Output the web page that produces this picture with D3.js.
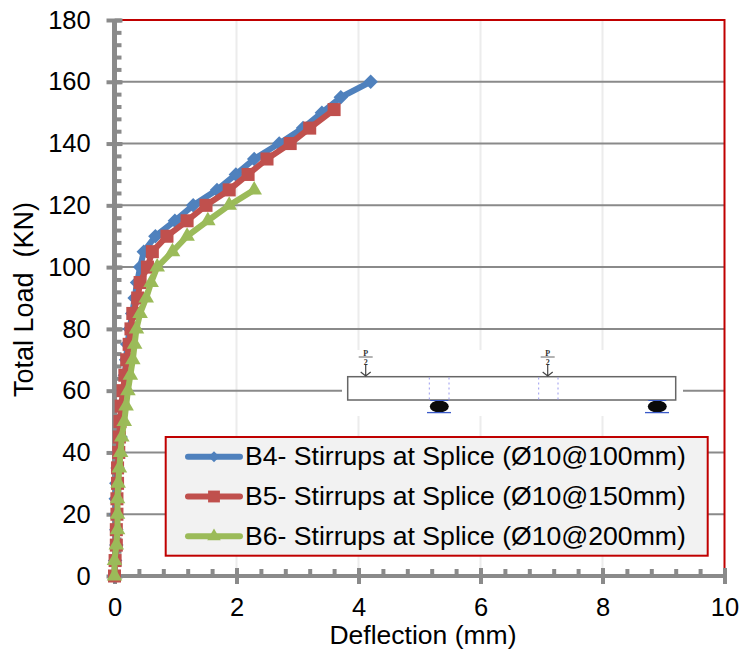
<!DOCTYPE html>
<html>
<head>
<meta charset="utf-8">
<script src="https://cdn.jsdelivr.net/npm/d3@7"></script>
<style>
 html, body { margin: 0; padding: 0; background: #fff; }
 text { font-family: "Liberation Sans", Arial, sans-serif; fill: #000; }
</style>
</head>
<body>
<svg id="chart" width="742" height="653"></svg>
<script>
 // Values, load in KN and deflection in mm
 const b4Load = [0, 5, 10, 15, 20, 25, 30, 35, 40, 45, 50, 55, 60, 65, 70, 75, 80, 85, 90, 95, 100, 105, 110, 115, 120, 125, 130, 135, 140, 145, 150, 155, 160];
 const b4Defl = [0, 0.01, 0.03, 0.03, 0.03, 0.02, 0.03, 0.05, 0.07, 0.1, 0.12, 0.13, 0.15, 0.17, 0.19, 0.21, 0.25, 0.29, 0.33, 0.37, 0.42, 0.48, 0.67, 0.99, 1.29, 1.68, 1.99, 2.29, 2.7, 3.09, 3.4, 3.71, 4.2];
 const b5Load = [0, 5, 10, 15, 20, 25, 30, 35, 40, 45, 50, 55, 60, 65, 70, 75, 80, 85, 90, 95, 100, 105, 110, 115, 120, 125, 130, 135, 140, 145, 151];
 const b5Defl = [0, 0.01, 0.03, 0.03, 0.04, 0.04, 0.05, 0.05, 0.07, 0.08, 0.09, 0.11, 0.14, 0.17, 0.2, 0.24, 0.27, 0.3, 0.38, 0.42, 0.54, 0.62, 0.86, 1.19, 1.5, 1.88, 2.19, 2.5, 2.88, 3.2, 3.6];
 const b6Load = [0, 5, 10, 15, 20, 25, 30, 35, 40, 45, 50, 55, 60, 65, 70, 75, 80, 85, 90, 95, 100, 105, 110, 115, 120, 125];
 const b6Defl = [0, 0, 0.03, 0.05, 0.05, 0.05, 0.06, 0.08, 0.1, 0.12, 0.16, 0.19, 0.22, 0.26, 0.3, 0.33, 0.36, 0.42, 0.52, 0.6, 0.7, 0.95, 1.19, 1.53, 1.88, 2.29];

 const seriesNames = ['B4- Stirrups at Splice (Ø10@100mm)', 'B5- Stirrups at Splice (Ø10@150mm)', 'B6- Stirrups at Splice (Ø10@200mm)'];
 const seriesColors = ['#4f81bd', '#c0504d', '#9bbb59'];
 const seriesMarkers = [d3.symbolSquare, d3.symbolSquare, d3.symbolTriangle];
 const markerAngles = [45, 0, 0];
 const markerAreas = [105, 170, 105];
 const legendAreas = [60, 140, 80];

 const xMajor = [0, 2, 4, 6, 8, 10];
 const yMajor = d3.range(0, 181, 20);
 const xMinor = d3.range(0, 10.01, 0.4);
 const yMinor = d3.range(0, 181, 4);

 const x = d3.scaleLinear().domain([0, 10]).range([114.5, 724.5]);
 const y = d3.scaleLinear().domain([0, 180]).range([576, 20]);
 const svg = d3.select('#chart');
 const axisGrey = '#8a8a8a';

 // Gridlines and plot border
 svg.append('g').selectAll('line').data(xMajor.slice(1, -1)).join('line')
    .attr('x1', d => x(d)).attr('x2', d => x(d))
    .attr('y1', y(180)).attr('y2', y(0))
    .attr('stroke', '#ececec').attr('stroke-width', 2);
 svg.append('g').selectAll('line').data(yMajor.slice(1, -1)).join('line')
    .attr('x1', x(0)).attr('x2', x(10))
    .attr('y1', d => y(d)).attr('y2', d => y(d))
    .attr('stroke', axisGrey).attr('stroke-width', 2);
 svg.append('rect')
    .attr('x', x(0)).attr('y', y(180))
    .attr('width', x(10) - x(0)).attr('height', y(0) - y(180))
    .attr('fill', 'none').attr('stroke', '#c00000').attr('stroke-width', 2);

 // Beam sketch, sits on a white patch over the grid
 const inset = svg.append('g');
 inset.append('rect').attr('x', 342).attr('y', 350).attr('width', 341).attr('height', 66).attr('fill', '#fff');
 inset.append('rect').attr('x', 347.7).attr('y', 376.7).attr('width', 328).attr('height', 23.3)
      .attr('fill', '#fff').attr('stroke', '#666').attr('stroke-width', 1.5);
 [429.3, 449, 538.7, 558].forEach(px => {
   inset.append('line').attr('x1', px).attr('x2', px).attr('y1', 377.5).attr('y2', 399.5)
        .attr('stroke', '#9a9aee').attr('stroke-width', 1).attr('stroke-dasharray', '2,3');
 });
 [[439.3, 427, 451], [657.3, 645, 669]].forEach(([cx, x1, x2]) => {
   inset.append('ellipse').attr('cx', cx).attr('cy', 406.5).attr('rx', 9.5).attr('ry', 6).attr('fill', '#0a0a0a');
   inset.append('line').attr('x1', x1).attr('x2', x2).attr('y1', 412.6).attr('y2', 412.6)
        .attr('stroke', '#3a5ac8').attr('stroke-width', 1.3);
   inset.append('line').attr('x1', cx - 9).attr('x2', cx + 9).attr('y1', 400.5).attr('y2', 400.5)
        .attr('stroke', '#3a5ac8').attr('stroke-width', 1);
 });
 [365.7, 547.7].forEach(px => {
   inset.append('text').attr('x', px).attr('y', 356).attr('text-anchor', 'middle')
        .style('font-family', '"Liberation Serif", serif').style('font-size', '8px').style('font-weight', 'bold').style('fill', '#333').text('P');
   inset.append('line').attr('x1', px - 7).attr('x2', px + 7).attr('y1', 357).attr('y2', 357)
        .attr('stroke', '#666').attr('stroke-width', 1);
   inset.append('text').attr('x', px).attr('y', 364.5).attr('text-anchor', 'middle')
        .style('font-family', '"Liberation Serif", serif').style('font-size', '8px').style('font-weight', 'bold').style('fill', '#333').text('2');
   inset.append('path').attr('d', `M${px},365V376M${px - 5},372L${px},376L${px + 5},372`)
        .attr('fill', 'none').attr('stroke', '#444').attr('stroke-width', 1.2);
 });

 // Axes
 function styleAxis(g, width) {
   g.selectAll('.domain').remove();
   g.selectAll('line').attr('stroke', axisGrey).attr('stroke-width', width);
 }
 svg.append('line').attr('x1', x(0)).attr('x2', x(0)).attr('y1', y(180) - 1).attr('y2', y(0) + 2)
    .attr('stroke', axisGrey).attr('stroke-width', 5);
 svg.append('line').attr('x1', x(0)).attr('x2', x(10) + 2).attr('y1', y(0)).attr('y2', y(0))
    .attr('stroke', axisGrey).attr('stroke-width', 4);

 svg.append('g').attr('transform', `translate(${x(0)},0)`)
    .call(d3.axisRight(y).tickValues(yMinor).tickSize(7).tickFormat(''))
    .call(g => styleAxis(g, 4));
 svg.append('g').attr('transform', `translate(0,${y(0)})`)
    .call(d3.axisTop(x).tickValues(xMinor).tickSize(7).tickFormat(''))
    .call(g => styleAxis(g, 4));
 svg.append('g').attr('transform', `translate(${x(0)},0)`)
    .call(d3.axisRight(y).tickValues(yMajor).tickSize(8).tickFormat(''))
    .call(g => styleAxis(g, 4));
 svg.append('g').attr('transform', `translate(0,${y(0)})`)
    .call(d3.axisTop(x).tickValues(xMajor).tickSize(8).tickFormat(''))
    .call(g => styleAxis(g, 4));

 const yAxis = svg.append('g').attr('transform', `translate(${x(0)},0)`)
    .call(d3.axisLeft(y).tickValues(yMajor).tickSize(8).tickPadding(15.8))
    .call(g => styleAxis(g, 4));
 const xAxis = svg.append('g').attr('transform', `translate(0,${y(0)})`)
    .call(d3.axisBottom(x).tickValues(xMajor).tickSize(8).tickPadding(14))
    .call(g => styleAxis(g, 4));
 yAxis.selectAll('text').style('font-size', '25.5px').style('font-family', '"Liberation Sans"').attr('fill', '#000');
 xAxis.selectAll('text').style('font-size', '25.5px').style('font-family', '"Liberation Sans"').attr('fill', '#000');

 svg.append('text').attr('transform', 'translate(33,299.5) rotate(-90)').attr('text-anchor', 'middle')
    .style('font-size', '27px').style('white-space', 'pre').text('Total Load  (KN)');
 svg.append('text').attr('x', 423).attr('y', 644).attr('text-anchor', 'middle')
    .style('font-size', '26.5px').text('Deflection (mm)');

 // Series
 const line = d3.line().x(d => x(d[0])).y(d => y(d[1]));
 [d3.zip(b4Defl, b4Load), d3.zip(b5Defl, b5Load), d3.zip(b6Defl, b6Load)].forEach((pts, i) => {
   const g = svg.append('g');
   g.append('path').datum(pts).attr('d', line)
    .attr('fill', 'none').attr('stroke', seriesColors[i]).attr('stroke-width', 6).attr('stroke-linejoin', 'round');
   g.selectAll('path.mark').data(pts).join('path')
    .attr('class', 'mark')
    .attr('d', d3.symbol().type(seriesMarkers[i]).size(markerAreas[i]))
    .attr('transform', d => `translate(${x(d[0])},${y(d[1])}) rotate(${markerAngles[i]})`)
    .attr('fill', seriesColors[i]);
 });

 // Legend
 const legend = svg.append('g');
 legend.append('rect').attr('x', 165.7).attr('y', 437).attr('width', 542).attr('height', 118.7)
       .attr('fill', '#f2f2f2').attr('stroke', '#c00000').attr('stroke-width', 2);
 const legendY = d3.scalePoint().domain(seriesNames).range([456.7, 536.3]);
 seriesNames.forEach((name, i) => {
   const ly = legendY(name);
   legend.append('line').attr('x1', 188).attr('x2', 240).attr('y1', ly).attr('y2', ly)
         .attr('stroke', seriesColors[i]).attr('stroke-width', 6).attr('stroke-linecap', 'round');
   legend.append('path')
         .attr('d', d3.symbol().type(seriesMarkers[i]).size(legendAreas[i]))
         .attr('transform', `translate(214,${ly}) rotate(${markerAngles[i]})`).attr('fill', seriesColors[i]);
   legend.append('text').attr('x', 245).attr('y', ly + 8.5).style('font-size', '26.6px').text(name);
 });
</script>
</body>
</html>
